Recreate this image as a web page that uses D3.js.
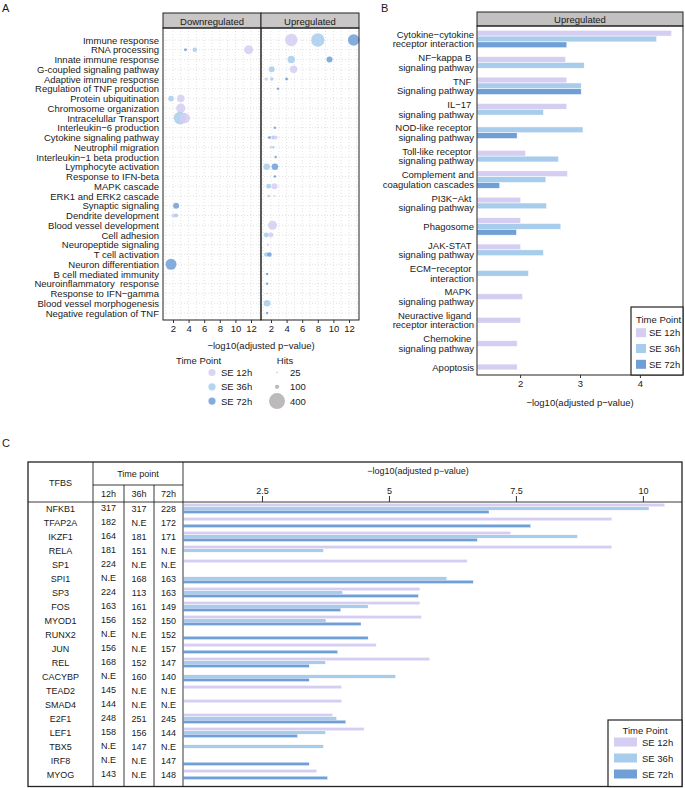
<!DOCTYPE html>
<html>
<head>
<meta charset="utf-8">
<script src="https://cdn.jsdelivr.net/npm/d3@7"></script>
<style>
  body { margin: 0; background: #fff; }
  svg text { font-family: "Liberation Sans", Arial, sans-serif; fill: #1a1a1a; white-space: pre; }
</style>
</head>
<body>
<div id="chart"></div>
<script>

  // ---- panel A : GO terms ----
  var goTerms = ['Immune response', 'RNA processing', 'Innate immune response', 'G-coupled signaling pathway',
    'Adaptive immune response', 'Regulation of TNF production', 'Protein ubiquitination', 'Chromosome organization',
    'Intracelullar Transport', 'Interleukin\u22126 production', 'Cytokine signaling pathway', 'Neutrophil migration',
    'Interleukin\u22121 beta production', 'Lymphocyte activation', 'Response to IFN-beta', 'MAPK cascade',
    'ERK1 and ERK2 cascade', 'Synaptic signaling', 'Dendrite development', 'Blood vessel development',
    'Cell adhesion', 'Neuropeptide signaling', 'T cell activation', 'Neuron differentiation',
    'B cell mediated immunity', 'Neuroinflammatory  response', 'Response to IFN\u2212gamma',
    'Blood vessel morphogenesis', 'Negative regulation of TNF'];
  var timePoints = ['SE 12h', 'SE 36h', 'SE 72h'];
  var regulation = ['Downregulated', 'Upregulated'];
  // term, regulation, time point, -log10 p, hits
  var goDots = [
    [0, 1, 0, 4.6, 308], [0, 1, 1, 8.0, 333], [0, 1, 2, 12.6, 287],
    [1, 0, 2, 3.6, 66], [1, 0, 1, 4.8, 107], [1, 0, 0, 11.7, 220],
    [2, 1, 1, 4.6, 179], [2, 1, 2, 9.5, 143],
    [3, 1, 1, 2.1, 143], [3, 1, 0, 4.9, 179],
    [4, 1, 0, 1.4, 76], [4, 1, 1, 2.1, 76], [4, 1, 2, 4.0, 66],
    [5, 1, 2, 2.9, 51],
    [6, 0, 1, 1.75, 133], [6, 0, 0, 3.0, 184],
    [7, 0, 0, 3.0, 230],
    [8, 0, 1, 2.9, 313], [8, 0, 0, 3.5, 261],
    [9, 1, 2, 2.5, 51],
    [10, 1, 2, 1.8, 66], [10, 1, 1, 2.3, 92], [10, 1, 0, 2.6, 92],
    [11, 1, 0, 2.0, 56], [11, 1, 1, 2.3, 56],
    [12, 1, 2, 2.6, 51],
    [13, 1, 1, 1.45, 159], [13, 1, 2, 2.5, 159],
    [14, 1, 2, 2.5, 56],
    [15, 1, 1, 1.7, 117], [15, 1, 0, 2.45, 143],
    [16, 1, 1, 1.7, 56], [16, 1, 0, 2.45, 40],
    [17, 0, 2, 2.4, 143],
    [18, 0, 0, 2.05, 92], [18, 0, 1, 2.4, 92],
    [19, 1, 0, 2.2, 220],
    [20, 1, 1, 1.4, 117], [20, 1, 0, 2.0, 117],
    [21, 1, 0, 1.6, 51],
    [22, 1, 1, 1.4, 107], [22, 1, 2, 1.8, 107],
    [23, 0, 2, 1.75, 272],
    [24, 1, 2, 1.5, 56],
    [25, 1, 2, 1.5, 56],
    [26, 1, 1, 1.5, 30],
    [27, 1, 1, 1.5, 159],
    [28, 1, 2, 1.5, 51]
  ];
  var goTicks = [2, 4, 6, 8, 10, 12];
  var hitBreaks = [25, 100, 400];

  // ---- panel B : KEGG pathways (upregulated) ----
  var pathways = ['Cytokine\u2212cytokine\nreceptor interaction', 'NF\u2212kappa B \nsignaling pathway',
    'TNF \nSignaling pathway', 'IL\u221217 \nsignaling pathway', 'NOD-like receptor \nsignaling pathway',
    'Toll-like receptor \nsignaling pathway', 'Complement and\ncoagulation cascades', 'PI3K\u2212Akt \nsignaling pathway',
    'Phagosome', 'JAK-STAT \nsignaling pathway', 'ECM\u2212receptor \ninteraction', 'MAPK \nsignaling pathway',
    'Neuractive ligand \nreceptor interaction', 'Chemokine \nsignaling pathway', 'Apoptosis'];
  var kegg12 = [4.53, 2.76, 2.78, 2.78, null, 2.09, 2.79, 2.01, 2.01, 2.01, null, 2.04, 2.01, 1.95, 1.95];
  var kegg36 = [4.28, 3.07, 3.02, 2.39, 3.05, 2.64, 2.43, 2.44, 2.68, 2.39, 2.14, null, null, null, null];
  var kegg72 = [2.78, null, 3.02, null, 1.95, null, 1.66, null, 1.94, null, null, null, null, null, null];
  var keggTicks = [2, 3, 4];

  // ---- panel C : TFBS table ----
  var tfbs = ['NFKB1', 'TFAP2A', 'IKZF1', 'RELA', 'SP1', 'SPI1', 'SP3', 'FOS', 'MYOD1', 'RUNX2',
    'JUN', 'REL', 'CACYBP', 'TEAD2', 'SMAD4', 'E2F1', 'LEF1', 'TBX5', 'IRF8', 'MYOG'];
  var hits12 = ['317', '182', '164', '181', '224', 'N.E', '224', '163', '156', 'N.E',
    '156', '168', 'N.E', '145', '144', '248', '158', 'N.E', 'N.E', '143'];
  var hits36 = ['317', 'N.E', '181', '151', 'N.E', '168', '113', '161', '152', 'N.E',
    'N.E', '152', '160', 'N.E', 'N.E', '251', '156', '147', 'N.E', 'N.E'];
  var hits72 = ['228', '172', '171', 'N.E', 'N.E', '163', '163', '149', '150', '152',
    '157', '147', '140', 'N.E', 'N.E', '245', '144', 'N.E', '147', '148'];
  var tf12 = [10.43, 9.39, 7.40, 9.39, 6.54, null, 5.61, 5.61, 5.64, null,
    4.75, 5.80, null, 4.07, 4.07, 3.89, 4.51, null, null, 3.58];
  var tf36 = [10.12, null, 8.71, 3.71, null, 6.14, 4.09, 4.59, 3.76, null,
    null, 3.75, 5.13, null, null, 3.97, 3.75, 3.71, null, null];
  var tf72 = [6.97, 7.79, 6.74, null, null, 6.66, 5.58, 4.05, 4.45, 4.59,
    3.99, 3.43, 3.43, null, null, 4.15, 3.20, null, 3.43, 3.79];
  var tfTicks = [2.5, 5, 7.5, 10];

  var colors = ['#d5cef2', '#a8cdec', '#6e9fd7'];
  var FS = 9.5;

  var svg = d3.select('#chart').append('svg')
    .attr('width', 685)
    .attr('height', 788);

  drawGoDots();
  drawKegg();
  drawTfbs();


  function label( x, y, txt, size, anchor ) {
    return svg.append('text')
      .attr('x', x)
      .attr('y', y)
      .attr('font-size', size || FS)
      .attr('text-anchor', anchor || 'start')
      .attr('dominant-baseline', 'central')
      .text( txt );
  }

  function styleAxis( g, size ) {
    g.select('.domain').remove();
    g.attr('font-family', null).attr('font-size', null);
    g.selectAll('line').attr('stroke', '#333');
    g.selectAll('text').attr('font-size', size || FS).attr('fill', '#1a1a1a');
  }

  function plain( d ) { return String( d ); }


  function drawGoDots() {
    var top = 28, bottom = 320, stripTop = 13;
    var panels = [[163, 261], [261, 359]];

    label( 2, 8, 'A', 11 );

    var y = d3.scalePoint().domain( goTerms ).range([40, 313]);
    var r = d3.scaleLinear().domain([25, 400]).range([0.7, 8]);

    goTerms.forEach( function( t ) { label( 159, y(t), t, FS, 'end'); });

    panels.forEach( function( p, pi ) {
      var x = d3.scaleLinear().domain([0.72, 13.28]).range( p );
      var g = svg.append('g');

      g.selectAll('.vgrid')
        .data( d3.range(1, 14) )
        .enter().append('line')
        .attr('x1', x).attr('x2', x)
        .attr('y1', top).attr('y2', bottom)
        .attr('stroke', '#cfcfcf').attr('stroke-width', 0.6).attr('stroke-dasharray', '1,2');

      g.selectAll('.hgrid')
        .data( goTerms )
        .enter().append('line')
        .attr('x1', p[0]).attr('x2', p[1])
        .attr('y1', function( d ) { return y(d); }).attr('y2', function( d ) { return y(d); })
        .attr('stroke', '#cfcfcf').attr('stroke-width', 0.6).attr('stroke-dasharray', '1,2');

      g.selectAll('circle')
        .data( goDots.filter( function( d ) { return d[1] === pi; }) )
        .enter().append('circle')
        .attr('cx', function( d ) { return x( d[3] ); })
        .attr('cy', function( d ) { return y( goTerms[ d[0] ] ); })
        .attr('r', function( d ) { return r( d[4] ); })
        .style('fill', function( d ) { return colors[ d[2] ]; })
        .style('opacity', 0.85);

      svg.append('rect')
        .attr('x', p[0]).attr('y', stripTop)
        .attr('width', p[1] - p[0]).attr('height', top - stripTop)
        .attr('fill', '#c8c6c6').attr('stroke', '#222');

      label( (p[0] + p[1]) / 2, (stripTop + top) / 2 + 0.5, regulation[pi], FS, 'middle');

      svg.append('rect')
        .attr('x', p[0]).attr('y', top)
        .attr('width', p[1] - p[0]).attr('height', bottom - top)
        .attr('fill', 'none').attr('stroke', '#222');

      var ax = svg.append('g')
        .attr('transform', 'translate(0,' + bottom + ')')
        .call( d3.axisBottom(x).tickValues( goTicks ).tickFormat( plain ).tickSize(3).tickPadding(2) );
      styleAxis( ax );
    });

    label( 261, 345, '\u2212log10(adjusted p\u2212value)', FS, 'middle');

    // legends
    label( 176, 360, 'Time Point');
    timePoints.forEach( function( t, i ) {
      var yy = 372.5 + i * 14.3;
      svg.append('circle').attr('cx', 212).attr('cy', yy).attr('r', 3.6)
        .style('fill', colors[i]).style('opacity', 0.85);
      label( 221, yy, t );
    });

    label( 285, 360, 'Hits', FS, 'middle');
    hitBreaks.forEach( function( h, i ) {
      var yy = 372.5 + i * 14.3;
      svg.append('circle').attr('cx', 277).attr('cy', yy).attr('r', r(h))
        .style('fill', '#bdbaba');
      label( 290, yy, h );
    });
  }


  function drawKegg() {
    var left = 477, right = 683, top = 26, bottom = 375, stripTop = 12;

    label( 381, 8, 'B', 11 );

    var x = d3.scaleLinear().domain([1.28, 4.72]).range([left, right]);
    var y = d3.scalePoint().domain( pathways ).range([39, 367]);
    var bh = 5.8;
    var series = [kegg12, kegg36, kegg72];

    pathways.forEach( function( p, i ) {
      var present = [0, 1, 2].filter( function( s ) { return series[s][i] !== null; });
      var y0 = y(p) - present.length * bh / 2;

      svg.selectAll('.kb' + i)
        .data( present )
        .enter().append('rect')
        .attr('x', left)
        .attr('y', function( s, k ) { return y0 + k * bh; })
        .attr('width', function( s ) { return x( series[s][i] ) - left; })
        .attr('height', bh)
        .style('fill', function( s ) { return colors[s]; })
        .attr('stroke', '#fff').attr('stroke-width', 0.5);

      var lines = p.split('\n');
      lines.forEach( function( l, k ) {
        label( 474, y(p) + ( k - ( lines.length - 1 ) / 2 ) * 9.7, l, FS, 'end');
      });
    });

    svg.append('rect')
      .attr('x', left).attr('y', stripTop)
      .attr('width', right - left).attr('height', top - stripTop)
      .attr('fill', '#c2c0c0').attr('stroke', '#222');
    label( (left + right) / 2, (stripTop + top) / 2 + 0.5, 'Upregulated', FS, 'middle');

    svg.append('rect')
      .attr('x', left).attr('y', top)
      .attr('width', right - left).attr('height', bottom - top)
      .attr('fill', 'none').attr('stroke', '#222');

    var ax = svg.append('g')
      .attr('transform', 'translate(0,' + bottom + ')')
      .call( d3.axisBottom(x).tickValues( keggTicks ).tickFormat( plain ).tickSize(3).tickPadding(2) );
    styleAxis( ax );

    label( 580, 402, '\u2212log10(adjusted p\u2212value)', FS, 'middle');

    // legend
    svg.append('rect')
      .attr('x', 631).attr('y', 307).attr('width', 52).attr('height', 68)
      .attr('fill', '#fff').attr('stroke', '#222').attr('stroke-width', 1.2);
    label( 636, 319, 'Time Point');
    timePoints.forEach( function( t, i ) {
      var yy = 332.7 + i * 15.8;
      svg.append('rect').attr('x', 636).attr('y', yy - 4.5).attr('width', 10).attr('height', 9)
        .style('fill', colors[i]);
      label( 649, yy, t );
    });
  }


  function drawTfbs() {
    var left = 28, right = 682, top = 462, bottom = 786.5, headBottom = 502;
    var cols = [93, 124, 154, 183];
    var tfs = 9;

    label( 2, 443, 'C', 11 );

    var x = d3.scaleLinear().domain([0.945, 10.77]).range([183, right]);
    var y = d3.scalePoint().domain( tfbs ).range([509, 775]);
    var bh = 3.4;
    var series = [tf12, tf36, tf72];

    tfbs.forEach( function( t, i ) {
      var y0 = y(t) - 1.5 * bh - 0.5;
      svg.selectAll('.tb' + i)
        .data( [0, 1, 2].filter( function( s ) { return series[s][i] !== null; }) )
        .enter().append('rect')
        .attr('x', 183.5)
        .attr('y', function( s ) { return y0 + s * bh; })
        .attr('width', function( s ) { return x( series[s][i] ) - 183.5; })
        .attr('height', bh)
        .style('fill', function( s ) { return colors[s]; })
        .attr('stroke', '#fff').attr('stroke-width', 0.4);

      label( 60.5, y(t), t, tfs, 'middle');
      label( 108.5, y(t) - 1, hits12[i], tfs, 'middle');
      label( 139, y(t), hits36[i], tfs, 'middle');
      label( 168.5, y(t), hits72[i], tfs, 'middle');
    });

    // table rules
    var rule = function( x1, y1, x2, y2 ) {
      svg.append('line').attr('x1', x1).attr('y1', y1).attr('x2', x2).attr('y2', y2)
        .attr('stroke', '#222').attr('stroke-width', 0.9);
    };
    rule( left, headBottom, right, headBottom );
    rule( cols[0], top, cols[0], bottom );
    rule( cols[3], top, cols[3], bottom );
    rule( cols[1], 485, cols[1], bottom );
    rule( cols[2], 485, cols[2], bottom );
    rule( cols[0], 485, cols[3], 485 );

    svg.append('rect')
      .attr('x', left).attr('y', top)
      .attr('width', right - left).attr('height', bottom - top)
      .attr('fill', 'none').attr('stroke', '#222').attr('stroke-width', 1.3);

    label( 60.5, 483, 'TFBS', tfs, 'middle');
    label( 138, 474, 'Time point', tfs, 'middle');
    label( 108.5, 494, '12h', tfs, 'middle');
    label( 139, 494, '36h', tfs, 'middle');
    label( 168.5, 494, '72h', tfs, 'middle');

    label( 418, 471, '\u2212log10(adjusted p\u2212value)', tfs, 'middle');
    var ax = svg.append('g')
      .attr('transform', 'translate(0,' + headBottom + ')')
      .call( d3.axisTop(x).tickValues( tfTicks ).tickFormat( plain ).tickSize(6).tickPadding(2) );
    styleAxis( ax, tfs );

    // legend
    svg.append('rect')
      .attr('x', 608).attr('y', 720).attr('width', 74).attr('height', 66.5)
      .attr('fill', '#fff').attr('stroke', '#222').attr('stroke-width', 1.2);
    label( 645, 730, 'Time Point', FS, 'middle');
    timePoints.forEach( function( t, i ) {
      var yy = 742 + i * 16;
      svg.append('rect').attr('x', 614).attr('y', yy - 4.5).attr('width', 23).attr('height', 9)
        .style('fill', colors[i]);
      label( 642, yy, t );
    });
  }

</script>
</body>
</html>
